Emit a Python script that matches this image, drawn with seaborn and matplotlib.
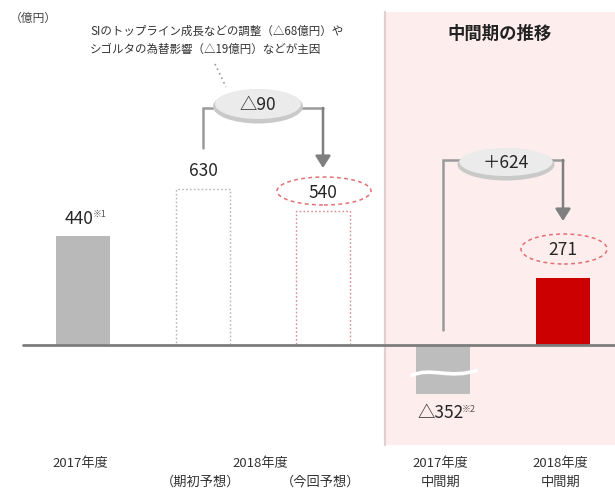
import numpy as np
import pandas as pd
import seaborn as sns
import matplotlib
matplotlib.use("Agg")
import matplotlib.pyplot as plt
from matplotlib.patches import Ellipse, Rectangle, PathPatch
from matplotlib.path import Path

# ---- data -------------------------------------------------------------
categories = ["2017年度", "2018年度 期初予想", "2018年度 今回予想",
              "2017年度 中間期", "2018年度 中間期"]
values = [440, 630, 540, -352, 271]
value_labels = ["440", "630", "540", "△352", "271"]
footnotes = ["※1", "", "", "※2", ""]
change_labels = ["△90", "＋624"]
year_labels = ["2017年度", "2018年度", "2017年度", "2018年度"]
sub_labels = ["（期初予想）", "（今回予想）", "中間期", "中間期"]
unit_label = "（億円）"
panel_title = "中間期の推移"
note_lines = ["SIのトップライン成長などの調整（△68億円）や",
              "シゴルタの為替影響（△19億円）などが主因"]

# ---- style ------------------------------------------------------------
sns.set_theme(style="white")
plt.rcParams["font.family"] = ["Noto Sans CJK JP", "DejaVu Sans"]

W, H = 615, 493
fig = plt.figure(figsize=(W / 100, H / 100), dpi=100)
ax = fig.add_axes([0, 0, 1, 1])

# pixel geometry of the drawing: bar pitch 120 px, baseline at y=345 px
PX_X = 120.0
PX_Y = 0.248
X0_PX, BASE_PX = 83, 345


def dx(px):
    return (px - X0_PX) / PX_X


def dy(py):
    return (BASE_PX - py) / PX_Y


df = pd.DataFrame({"category": categories, "value": values})
sns.barplot(data=df, x="category", y="value", order=categories,
            width=0.45, color="#bbbbbb", saturation=1, ax=ax, zorder=3)

ax.set_xlim(dx(0), dx(W))
ax.set_ylim(dy(H), dy(0))
ax.set_xticks([])
ax.set_yticks([])
ax.set_xlabel("")
ax.set_ylabel("")
for s in ax.spines.values():
    s.set_visible(False)

bars = sorted(ax.patches, key=lambda p: p.get_x())
bars[0].set(facecolor="#b9b9b9", edgecolor="none")
bars[1].set(facecolor="white", edgecolor="#b5b5b5", linestyle=(0, (1.2, 1.6)), linewidth=1.0)
bars[2].set(facecolor="white", edgecolor="#d98a96", linestyle=(0, (1.2, 1.6)), linewidth=1.0)
bars[3].set(facecolor="#bdbdbd", edgecolor="none")
bars[4].set(facecolor="#cc0000", edgecolor="none")

# the large negative bar is cut short with a break mark
clip = Rectangle((dx(0), dy(394)), 10, 4000, transform=ax.transData)
bars[3].set_clip_path(clip)
xb = 3
wave = Path([(xb - 0.27, dy(376)), (xb - 0.1, dy(366)), (xb + 0.05, dy(380)), (xb + 0.29, dy(370))],
            [Path.MOVETO, Path.CURVE4, Path.CURVE4, Path.CURVE4])
ax.add_patch(PathPatch(wave, facecolor="none", edgecolor="white", lw=2.6, zorder=5))

# pink panel for the interim comparison
ax.add_patch(Rectangle((dx(385), dy(445)), 5, dy(12) - dy(445),
                       facecolor="#fdeded", edgecolor="none", zorder=0))
ax.plot([dx(385), dx(385)], [dy(445), dy(12)], color="#e3cfcf", lw=1.6, zorder=1)

# baseline
ax.plot([dx(23), dx(W)], [0, 0], color="#7d7d7d", lw=2.0, zorder=6)

# ---- value labels -----------------------------------------------------
LBL = 12.5
TXT = "#262626"
for i, (v, lab, fn) in enumerate(zip(values, value_labels, footnotes)):
    if v >= 0:
        off = {0: 17, 1: 18, 2: 18, 4: 28}[i]
        ax.annotate(lab, (i, v), xytext=(-4 if fn else 0, off), textcoords="offset pixels",
                    ha="center", va="center", fontsize=LBL, color=TXT, zorder=8)
        if fn:
            ax.annotate(fn, (i, v), xytext=(10, off + 4), textcoords="offset pixels",
                        ha="left", va="center", fontsize=6.5, color="#555555", zorder=8)
    else:
        ax.text(dx(417), dy(413), lab, ha="left", va="center", fontsize=LBL,
                color=TXT, zorder=8)
        ax.text(dx(462), dy(409), fn, ha="left", va="center", fontsize=6.5,
                color="#555555", zorder=8)

# dashed red rings around the current figures
for i, cy, w, h in [(2, 191, 94, 28), (4, 249, 86, 30)]:
    ax.add_patch(Ellipse((i + dx(X0_PX + 1), dy(cy)), w / PX_X, h / PX_Y, facecolor="none",
                         edgecolor="#e46f74", lw=1.1, linestyle=(0, (2.5, 2.2)), zorder=7))

# ---- change brackets --------------------------------------------------
def bracket(x0, y_from, x1, y_tip, y_line, ex, ey, ew, eh, label):
    ax.plot([x0, x0, x1], [y_from, y_line, y_line], color="#9a9a9a", lw=1.8,
            zorder=6, solid_joinstyle="miter")
    ax.annotate("", xy=(x1, y_tip), xytext=(x1, y_line),
                arrowprops=dict(arrowstyle="-|>,head_length=0.6,head_width=0.38",
                                color="#7f7f7f", lw=1.8, shrinkA=0, shrinkB=0),
                zorder=6)
    # soft shaded rim under a light pill
    ax.add_patch(Ellipse((ex, ey - 1.5 / PX_Y), ew, eh, facecolor="#c9c9c9",
                         edgecolor="none", zorder=7))
    ax.add_patch(Ellipse((ex, ey + 1 / PX_Y), ew - 4 / PX_X, eh - 4 / PX_Y,
                         facecolor="#ebebeb", edgecolor="none", zorder=7))
    ax.text(ex, ey, label, ha="center", va="center", fontsize=LBL, color=TXT, zorder=8)


bracket(1, dy(148), 2, dy(168), dy(108), dx(258), dy(105), 90 / PX_X, 34 / PX_Y,
        change_labels[0])
bracket(3, dy(330), 4, dy(221), dy(160), dx(506), dy(163), 97 / PX_X, 32 / PX_Y,
        change_labels[1])

# ---- annotations ------------------------------------------------------
fig.text(10 / W, 1 - 18 / H, unit_label, ha="left", va="center", fontsize=8.5, color="#444444")
fig.text(90 / W, 1 - 31 / H, note_lines[0], ha="left", va="center", fontsize=8.3, color="#333333")
fig.text(90 / W, 1 - 49 / H, note_lines[1], ha="left", va="center", fontsize=8.3, color="#333333")
ax.plot([dx(215), dx(226)], [dy(64), dy(87)], color="#9a9a9a", lw=1.2,
        linestyle=(0, (1, 2)), zorder=6)
fig.text(500 / W, 1 - 34 / H, panel_title, ha="center", va="center", fontsize=12.5,
         fontweight="bold", color="#222222")

# ---- category labels --------------------------------------------------
year_x = [0, 1.5, 3, 4]
sub_x = [1, 2, 3, 4]
for x, t in zip(year_x, year_labels):
    ax.text(x - 0.02, dy(463), t, ha="center", va="center", fontsize=9.5, color="#333333")
for x, t in zip(sub_x, sub_labels):
    ax.text(x - 0.02, dy(482), t, ha="center", va="center", fontsize=9.5, color="#333333")

fig.savefig("out.png", dpi=100)
